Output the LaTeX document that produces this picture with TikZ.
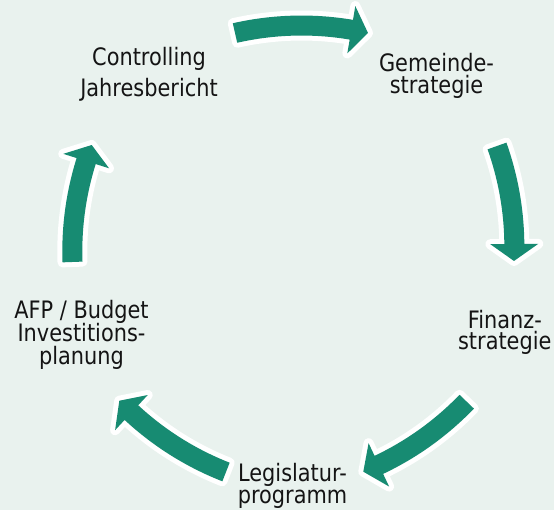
\documentclass[tikz,border=0pt]{standalone}
\usepackage{fontspec}
\setmainfont{DejaVu Sans}[FakeStretch=0.87]
\definecolor{bgmint}{RGB}{233,242,238}
\definecolor{arrowgreen}{RGB}{23,139,114}
\definecolor{txt}{RGB}{20,20,20}
\newcommand{\headlen}{17}
\newcommand{\cyclearrow}[5]{%
  \pgfmathsetmacro\arR{#1}%
  \pgfmathsetmacro\arDX{#4-#2}%
  \pgfmathsetmacro\arDY{#5-#3}%
  \pgfmathsetmacro\arC{veclen(\arDX,\arDY)}%
  \pgfmathsetmacro\arQ{\arC/(2*\arR)}%
  \pgfmathsetmacro\arH{\arR*sqrt(1-\arQ*\arQ)}%
  \pgfmathsetmacro\arCX{(#2+#4)/2+\arDY/\arC*\arH}%
  \pgfmathsetmacro\arCY{(#3+#5)/2-\arDX/\arC*\arH}%
  \pgfmathsetmacro\arAT{atan2(#3-\arCY,#2-\arCX)}%
  \pgfmathsetmacro\arAPraw{atan2(#5-\arCY,#4-\arCX)}%
  \pgfmathsetmacro\arAP{\arAPraw>\arAT ? \arAPraw-360 : \arAPraw}%
  \pgfmathsetmacro\arAB{\arAP+\headlen/\arR*57.2958}%
  \pgfmathsetmacro\arRo{\arR+10}%
  \pgfmathsetmacro\arRi{\arR-10}%
  \pgfmathsetmacro\arRho{\arR+24}%
  \pgfmathsetmacro\arRhi{\arR-24}%
  \path[blockarrow]
    ([shift={(\arCX,\arCY)}]\arAT:\arRo)
    arc[start angle=\arAT, end angle=\arAB, radius=\arRo]
    -- ([shift={(\arCX,\arCY)}]\arAB:\arRho)
    -- ([shift={(\arCX,\arCY)}]\arAP:\arR)
    -- ([shift={(\arCX,\arCY)}]\arAB:\arRhi)
    -- ([shift={(\arCX,\arCY)}]\arAB:\arRi)
    arc[start angle=\arAB, end angle=\arAT, radius=\arRi]
    -- cycle;%
}
\begin{document}
\begin{tikzpicture}[x=1pt,y=1pt,
  blockarrow/.style={fill=arrowgreen,
    preaction={draw=white, line width=10pt, line join=round}},
  lbl/.style={anchor=base, inner sep=0pt, text=txt, font=\fontsize{24}{24}\selectfont}]
\path[fill=bgmint] (0,0) rectangle (554,510);
\useasboundingbox (0,0) rectangle (554,510);

% cycle arrows (radius, tail x,y, tip x,y)
\cyclearrow{300}{235}{477}{368}{477}
\cyclearrow{300}{497}{364}{514}{249}
\cyclearrow{300}{466.7}{108.3}{363.3}{38.3}
\cyclearrow{300}{226}{38}{119.3}{109.3}
\cyclearrow{300}{72.5}{248}{91.7}{365}

% labels
\node[lbl] (ctrl1) at (149,444) {Controlling};
\node[lbl] (ctrl2) at (149,413.3) {Jahresbericht};
\node[lbl] (gem1) at (436.5,438.3) {Gemeinde-};
\node[lbl] (gem2) at (436.5,416.7) {strategie};
\node[lbl] (fin1) at (504.8,181.7) {Finanz-};
\node[lbl] (fin2) at (504.8,160) {strategie};
\node[lbl] (leg1) at (292.5,28) {Legislatur-};
\node[lbl] (leg2) at (292.5,6) {programm};
\node[lbl] (afp1) at (81.5,191.7) {AFP / Budget};
\node[lbl] (afp2) at (81.5,168.3) {Investitions-};
\node[lbl] (afp3) at (81.5,145) {planung};
\end{tikzpicture}
\end{document}
